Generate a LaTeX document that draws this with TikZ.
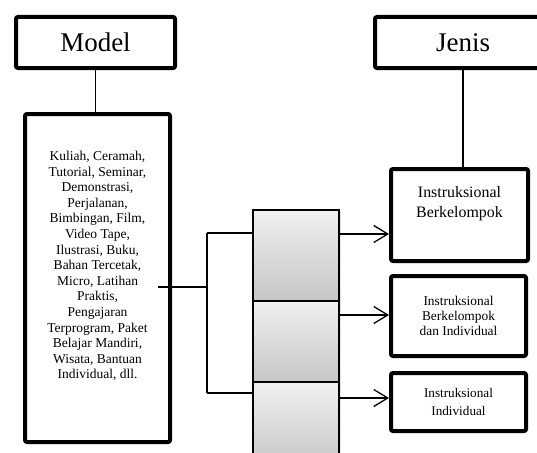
\documentclass[tikz,border=0pt]{standalone}
\usepackage{fontspec}
\setmainfont{Liberation Serif}
\usepackage{tikz}
\usetikzlibrary{arrows.meta}
\usetikzlibrary{shadows}
\tikzset{headbox/.style={draw=black, line width=4pt, rounded corners=2pt, fill=white, inner sep=0},
         jenisbox/.style={draw=black, line width=4pt, rounded corners=2pt, fill=white, minimum width=135, inner sep=0},
         graybox/.style={draw=black, line width=1.4pt, top color=gray!12, bottom color=gray!45, minimum width=86, inner sep=0,
                         drop shadow={opacity=.2, shadow xshift=1.5pt, shadow yshift=-1pt}},
         conn/.style={black, line width=1.3pt},
         arr/.style={conn, -{Straight Barb[length=14pt, width=17pt, line width=1.3pt]}}}
\begin{document}
\begin{tikzpicture}[x=1pt, y=-1pt]
\clip (0,0) rectangle (537,452);
\fill[white] (0,0) rectangle (537,452);
% judul kolom
\node[headbox, minimum width=159, minimum height=51, font=\fontsize{27}{30}\selectfont] (model) at (95.5,42.5) {Model};
\node[headbox, minimum width=176, minimum height=51, font=\fontsize{27}{30}\selectfont] (jenis) at (463,42.5) {Jenis};
% daftar model
\node[headbox, minimum width=145, minimum height=328] (list) at (97.5,278) {};
\node[align=center, inner sep=0, font=\fontsize{13.5}{15.6}\selectfont] (listtext) at (97.5,266)
  {Kuliah, Ceramah,\\ Tutorial, Seminar,\\ Demonstrasi,\\ Perjalanan,\\ Bimbingan, Film,\\ Video Tape,\\ Ilustrasi, Buku,\\
   Bahan Tercetak,\\ Micro, Latihan\\ Praktis,\\ Pengajaran\\ Terprogram, Paket\\ Belajar Mandiri,\\ Wisata, Bantuan\\ Individual, dll.};
% kotak abu-abu
\node[graybox, minimum height=91] (g1) at (296,255.5) {};
\node[graybox, minimum height=81] (g2) at (296,341.5) {};
\node[graybox, minimum height=88] (g3) at (296,426) {};
% jenis instruksional
\node[jenisbox, minimum width=137, minimum height=92] (instA) at (459.5,215) {};
\node[align=center, inner sep=0, font=\fontsize{15.9}{20}\selectfont] (txtA) at (459.5,204) {Instruksional\\ Berkelompok};
\node[jenisbox, minimum height=80, align=center, font=\fontsize{13.4}{15}\selectfont] (instB) at (458.5,316)
  {Instruksional\\ Berkelompok\\ dan Individual};
\node[jenisbox, minimum height=58, align=center, font=\fontsize{13.2}{18}\selectfont] (instC) at (458.5,402)
  {Instruksional\\ Individual};
% garis penghubung
\coordinate (fork) at (207,287);
\draw[conn] (model.south) -- (model.south |- list.north);
\draw[conn] (jenis.south) -- (jenis.south |- instA.north);
\draw[conn] ([xshift=-14pt]list.east |- fork) -- (fork);
\draw[conn] (fork |- 0,233) -- (fork |- 0,393);
\draw[conn] (fork |- 0,233) -- (g1.west |- 0,233);
\draw[conn] (fork |- 0,393) -- (g3.west |- 0,393);
\draw[arr] (g1.east |- 0,234) -- (instA.west |- 0,234);
\draw[arr] (g2.east |- 0,315) -- (instB.west |- 0,315);
\draw[arr] (g3.east |- 0,398) -- (instC.west |- 0,398);
\end{tikzpicture}
\end{document}
